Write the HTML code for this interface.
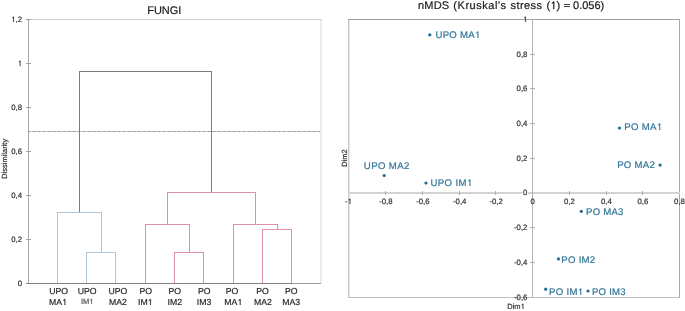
<!DOCTYPE html>
<html><head><meta charset="utf-8">
<style>
html,body{margin:0;padding:0;background:#fff;width:685px;height:311px;overflow:hidden}
svg{display:block;will-change:transform;text-rendering:geometricPrecision;font-family:"Liberation Sans",sans-serif}
text{stroke-width:0.2px}
</style></head><body>
<svg width="685" height="311" viewBox="0 0 685 311">
<rect width="685" height="311" fill="#fff"/>
<text x="164.3" y="13.6" font-size="11" text-anchor="middle" fill="#1a1a1a" stroke="#1a1a1a">FUNGI</text>
<g shape-rendering="crispEdges" fill="none">
<line x1="28" y1="19.5" x2="322" y2="19.5" stroke="#d2d2d2"/>
<line x1="321" y1="20" x2="321" y2="283" stroke="#eaeaea" stroke-width="2"/>
<line x1="28.5" y1="19" x2="28.5" y2="284" stroke="#a6a6a6"/>
<line x1="26" y1="283.5" x2="321" y2="283.5" stroke="#9a9a9a"/>
<line x1="26" y1="283.5" x2="292" y2="283.5" stroke="#808080"/>
<line x1="26" y1="19.5" x2="31" y2="19.5" stroke="#a0a0a0"/>
<line x1="26" y1="63.5" x2="31" y2="63.5" stroke="#a0a0a0"/>
<line x1="26" y1="107.5" x2="31" y2="107.5" stroke="#a0a0a0"/>
<line x1="26" y1="151.5" x2="31" y2="151.5" stroke="#a0a0a0"/>
<line x1="26" y1="195.5" x2="31" y2="195.5" stroke="#a0a0a0"/>
<line x1="26" y1="239.5" x2="31" y2="239.5" stroke="#a0a0a0"/>
<line x1="29" y1="131.5" x2="320" y2="131.5" stroke="#dadada"/>
<line x1="29" y1="131.5" x2="320" y2="131.5" stroke="#a2a2a2" stroke-dasharray="3.6 1.4" stroke-dashoffset="1.7" shape-rendering="auto"/>
<path d="M79.5 212V71.5H211.5V192" stroke="#7c7c7c"/>
<path d="M57.5 283V212.5H101.5V252.5M86.5 283V252.5H115.5V283" stroke="#b0c7d6"/>
<path d="M167.5 224.5V192.5H255.5V224.5M145.5 283V224.5H189.5V252.5M174.5 283V252.5H203.5V283M233.5 283V224.5H277.5V229.5M262.5 283V229.5H291.5V283" stroke="#e091aa"/>
</g>
<text x="22" y="21.9" font-size="7.8" text-anchor="end" fill="#333" stroke="#333"> ,2</text>
<text x="22" y="65.9" font-size="7.8" text-anchor="end" fill="#333" stroke="#333"> </text>
<text x="22" y="109.9" font-size="7.8" text-anchor="end" fill="#333" stroke="#333">0,8</text>
<text x="22" y="153.9" font-size="7.8" text-anchor="end" fill="#333" stroke="#333">0,6</text>
<text x="22" y="197.9" font-size="7.8" text-anchor="end" fill="#333" stroke="#333">0,4</text>
<text x="22" y="241.9" font-size="7.8" text-anchor="end" fill="#333" stroke="#333">0,2</text>
<text x="22" y="285.9" font-size="7.8" text-anchor="end" fill="#333" stroke="#333">0</text>
<text transform="translate(6.6 158.8) rotate(-90)" font-size="7.5" text-anchor="middle" fill="#333" stroke="#333">Dissimilarity</text>
<text x="58.55" y="294.0" font-size="8.7" text-anchor="middle" fill="#2a2a2a" stroke="#2a2a2a">UPO</text>
<text x="58.05" y="305.0" font-size="8.7" text-anchor="middle" fill="#2a2a2a" stroke="#2a2a2a">MA </text>
<text x="87.2" y="294.0" font-size="8.7" text-anchor="middle" fill="#2a2a2a" stroke="#2a2a2a">UPO</text>
<text x="87.2" y="303.6" font-size="7.5" text-anchor="middle" fill="#555" stroke="#555">IM </text>
<text x="117.85" y="294.0" font-size="8.7" text-anchor="middle" fill="#2a2a2a" stroke="#2a2a2a">UPO</text>
<text x="117.85" y="305.0" font-size="8.7" text-anchor="middle" fill="#2a2a2a" stroke="#2a2a2a">MA2</text>
<text x="145.85" y="294.0" font-size="8.7" text-anchor="middle" fill="#2a2a2a" stroke="#2a2a2a">PO</text>
<text x="145.3" y="305.0" font-size="8.7" text-anchor="middle" fill="#2a2a2a" stroke="#2a2a2a">IM </text>
<text x="174.85" y="294.0" font-size="8.7" text-anchor="middle" fill="#2a2a2a" stroke="#2a2a2a">PO</text>
<text x="174.85" y="305.0" font-size="8.7" text-anchor="middle" fill="#2a2a2a" stroke="#2a2a2a">IM2</text>
<text x="204.2" y="294.0" font-size="8.7" text-anchor="middle" fill="#2a2a2a" stroke="#2a2a2a">PO</text>
<text x="204.05" y="305.0" font-size="8.7" text-anchor="middle" fill="#2a2a2a" stroke="#2a2a2a">IM3</text>
<text x="232.0" y="294.0" font-size="8.7" text-anchor="middle" fill="#2a2a2a" stroke="#2a2a2a">PO</text>
<text x="233.3" y="305.0" font-size="8.7" text-anchor="middle" fill="#2a2a2a" stroke="#2a2a2a">MA </text>
<text x="262.55" y="294.0" font-size="8.7" text-anchor="middle" fill="#2a2a2a" stroke="#2a2a2a">PO</text>
<text x="263.0" y="305.0" font-size="8.7" text-anchor="middle" fill="#2a2a2a" stroke="#2a2a2a">MA2</text>
<text x="291.2" y="294.0" font-size="8.7" text-anchor="middle" fill="#2a2a2a" stroke="#2a2a2a">PO</text>
<text x="291.2" y="305.0" font-size="8.7" text-anchor="middle" fill="#2a2a2a" stroke="#2a2a2a">MA3</text>
<g font-size="11" fill="#1a1a1a" stroke="#1a1a1a" style="stroke-width:0.05px"><text y="9.2"><tspan x="418.07" letter-spacing="0.19">nMDS</tspan><tspan x="453.32" letter-spacing="0.54">(Kruskal's</tspan><tspan x="510.49" letter-spacing="0.45">stress</tspan><tspan x="546.52" letter-spacing="0.11">( )</tspan><tspan x="573.07">0.056)</tspan></text></g>
<rect x="564" y="4" width="6" height="1" fill="#444"/><rect x="564" y="6" width="6" height="1" fill="#444"/>
<g shape-rendering="crispEdges" fill="none">
<line x1="348.5" y1="19" x2="348.5" y2="298" stroke="#c8c8c8"/>
<line x1="349.5" y1="19" x2="349.5" y2="298" stroke="#e6e6e6"/>
<line x1="348" y1="19.5" x2="680" y2="19.5" stroke="#a0a0a0"/>
<line x1="679.5" y1="19" x2="679.5" y2="298" stroke="#a8a8a8"/>
<line x1="348" y1="297.5" x2="680" y2="297.5" stroke="#c0c0c0"/>
<line x1="348" y1="193" x2="680" y2="193" stroke="#d2d2d2" stroke-width="2"/>
<line x1="532.5" y1="19" x2="532.5" y2="298" stroke="#b4b4b4"/>
<line x1="385.5" y1="191" x2="385.5" y2="195" stroke="#b0b0b0"/>
<line x1="422.5" y1="191" x2="422.5" y2="195" stroke="#b0b0b0"/>
<line x1="459.5" y1="191" x2="459.5" y2="195" stroke="#b0b0b0"/>
<line x1="495.5" y1="191" x2="495.5" y2="195" stroke="#b0b0b0"/>
<line x1="569.5" y1="191" x2="569.5" y2="195" stroke="#b0b0b0"/>
<line x1="606.5" y1="191" x2="606.5" y2="195" stroke="#b0b0b0"/>
<line x1="642.5" y1="191" x2="642.5" y2="195" stroke="#b0b0b0"/>
<line x1="530" y1="54.5" x2="535" y2="54.5" stroke="#b0b0b0"/>
<line x1="530" y1="88.5" x2="535" y2="88.5" stroke="#b0b0b0"/>
<line x1="530" y1="123.5" x2="535" y2="123.5" stroke="#b0b0b0"/>
<line x1="530" y1="158.5" x2="535" y2="158.5" stroke="#b0b0b0"/>
<line x1="530" y1="227.5" x2="535" y2="227.5" stroke="#b0b0b0"/>
<line x1="530" y1="262.5" x2="535" y2="262.5" stroke="#b0b0b0"/>
</g>
<rect x="522" y="189" width="6" height="7" fill="#fff"/>
<text x="348.4" y="203.5" font-size="7.8" text-anchor="middle" fill="#333" stroke="#333">- </text>
<text x="385.75" y="203.5" font-size="7.8" text-anchor="middle" fill="#333" stroke="#333">-0,8</text>
<text x="422.85" y="203.5" font-size="7.8" text-anchor="middle" fill="#333" stroke="#333">-0,6</text>
<text x="459.7" y="203.5" font-size="7.8" text-anchor="middle" fill="#333" stroke="#333">-0,4</text>
<text x="496.05" y="203.5" font-size="7.8" text-anchor="middle" fill="#333" stroke="#333">-0,2</text>
<text x="532.6" y="203.5" font-size="7.8" text-anchor="middle" fill="#333" stroke="#333">0</text>
<text x="569.5" y="203.5" font-size="7.8" text-anchor="middle" fill="#333" stroke="#333">0,2</text>
<text x="606.45" y="203.5" font-size="7.8" text-anchor="middle" fill="#333" stroke="#333">0,4</text>
<text x="642.95" y="203.5" font-size="7.8" text-anchor="middle" fill="#333" stroke="#333">0,6</text>
<text x="679.5" y="203.5" font-size="7.8" text-anchor="middle" fill="#333" stroke="#333">0,8</text>
<text x="527.4" y="21.8" font-size="7.8" text-anchor="end" fill="#333" stroke="#333"> </text>
<text x="527.4" y="56.8" font-size="7.8" text-anchor="end" fill="#333" stroke="#333">0,8</text>
<text x="527.4" y="90.8" font-size="7.8" text-anchor="end" fill="#333" stroke="#333">0,6</text>
<text x="527.4" y="125.8" font-size="7.8" text-anchor="end" fill="#333" stroke="#333">0,4</text>
<text x="527.4" y="160.8" font-size="7.8" text-anchor="end" fill="#333" stroke="#333">0,2</text>
<text x="527.4" y="195.3" font-size="7.8" text-anchor="end" fill="#333" stroke="#333">0</text>
<text x="527.4" y="229.8" font-size="7.8" text-anchor="end" fill="#333" stroke="#333">-0,2</text>
<text x="527.4" y="264.8" font-size="7.8" text-anchor="end" fill="#333" stroke="#333">-0,4</text>
<text x="527.4" y="299.8" font-size="7.8" text-anchor="end" fill="#333" stroke="#333">-0,6</text>
<text x="516" y="309.4" font-size="7.5" text-anchor="middle" fill="#333" stroke="#333">Dim </text>
<text transform="translate(346.6 158) rotate(-90)" font-size="7.5" text-anchor="middle" fill="#333" stroke="#333">Dim2</text>
<g fill="#1f6b94"><circle cx="429.8" cy="34.8" r="1.6"/><circle cx="384.2" cy="175.5" r="1.6"/><circle cx="426" cy="183" r="1.6"/><circle cx="619.5" cy="128" r="1.6"/><circle cx="660.1" cy="165.1" r="1.6"/><circle cx="581.3" cy="211.3" r="1.6"/><circle cx="558.5" cy="258.9" r="1.6"/><circle cx="545.7" cy="289.2" r="1.6"/><circle cx="588" cy="291" r="1.6"/></g>
<g font-size="9.6" fill="#2f7499" stroke="#2f7499" style="stroke-width:0.1px"><text x="435.56" y="37.55" letter-spacing="0.25">UPO MA </text><text x="363.86" y="168.65" letter-spacing="0.39">UPO MA2</text><text x="430.46" y="185.65" letter-spacing="0.39">UPO IM </text><text x="624.21" y="130" letter-spacing="0.32">PO MA </text><text x="617.21" y="167.65" letter-spacing="0.26">PO MA2</text><text x="586.11" y="214.95" letter-spacing="0.21">PO MA3</text><text x="561.31" y="262.65" letter-spacing="0.27">PO IM2</text><text x="549.11" y="295" letter-spacing="0.28">PO IM </text><text x="591.91" y="295" letter-spacing="0.25">PO IM3</text></g>
<g><path transform="translate(11.156 22.000) scale(0.003809 -0.003809)" d="M560 0L560 1140L300 960L300 1120L575 1409L740 1409L740 0Z" fill="rgb(51, 51, 51)" stroke="rgb(51, 51, 51)" stroke-width="52.5"/><path transform="translate(17.656 66.000) scale(0.003809 -0.003809)" d="M560 0L560 1140L300 960L300 1120L575 1409L740 1409L740 0Z" fill="rgb(51, 51, 51)" stroke="rgb(51, 51, 51)" stroke-width="52.5"/><path transform="translate(62.144 305.000) scale(0.004248 -0.004248)" d="M560 0L560 1140L300 960L300 1120L575 1409L740 1409L740 0Z" fill="rgb(42, 42, 42)" stroke="rgb(42, 42, 42)" stroke-width="47.1"/><path transform="translate(89.270 304.000) scale(0.003662 -0.003662)" d="M560 0L560 1140L300 960L300 1120L575 1409L740 1409L740 0Z" fill="rgb(85, 85, 85)" stroke="rgb(85, 85, 85)" stroke-width="54.6"/><path transform="translate(147.698 305.000) scale(0.004248 -0.004248)" d="M560 0L560 1140L300 960L300 1120L575 1409L740 1409L740 0Z" fill="rgb(42, 42, 42)" stroke="rgb(42, 42, 42)" stroke-width="47.1"/><path transform="translate(237.394 305.000) scale(0.004248 -0.004248)" d="M560 0L560 1140L300 960L300 1120L575 1409L740 1409L740 0Z" fill="rgb(42, 42, 42)" stroke="rgb(42, 42, 42)" stroke-width="47.1"/><path transform="translate(550.286 9.000) scale(0.005371 -0.005371)" d="M560 0L560 1140L300 960L300 1120L575 1409L740 1409L740 0Z" fill="rgb(26, 26, 26)" stroke="rgb(26, 26, 26)" stroke-width="37.2"/><path transform="translate(347.525 204.000) scale(0.003809 -0.003809)" d="M560 0L560 1140L300 960L300 1120L575 1409L740 1409L740 0Z" fill="rgb(51, 51, 51)" stroke="rgb(51, 51, 51)" stroke-width="52.5"/><path transform="translate(523.056 22.000) scale(0.003809 -0.003809)" d="M560 0L560 1140L300 960L300 1120L575 1409L740 1409L740 0Z" fill="rgb(51, 51, 51)" stroke="rgb(51, 51, 51)" stroke-width="52.5"/><path transform="translate(520.570 309.000) scale(0.003662 -0.003662)" d="M560 0L560 1140L300 960L300 1120L575 1409L740 1409L740 0Z" fill="rgb(51, 51, 51)" stroke="rgb(51, 51, 51)" stroke-width="54.6"/><path transform="translate(474.904 38.000) scale(0.004687 -0.004687)" d="M560 0L560 1140L300 960L300 1120L575 1409L740 1409L740 0Z" fill="rgb(47, 116, 153)" stroke="rgb(47, 116, 153)" stroke-width="42.7"/><path transform="translate(466.897 186.000) scale(0.004687 -0.004687)" d="M560 0L560 1140L300 960L300 1120L575 1409L740 1409L740 0Z" fill="rgb(47, 116, 153)" stroke="rgb(47, 116, 153)" stroke-width="42.7"/><path transform="translate(656.726 130.000) scale(0.004687 -0.004687)" d="M560 0L560 1140L300 960L300 1120L575 1409L740 1409L740 0Z" fill="rgb(47, 116, 153)" stroke="rgb(47, 116, 153)" stroke-width="42.7"/><path transform="translate(577.688 295.000) scale(0.004687 -0.004687)" d="M560 0L560 1140L300 960L300 1120L575 1409L740 1409L740 0Z" fill="rgb(47, 116, 153)" stroke="rgb(47, 116, 153)" stroke-width="42.7"/></g>
</svg>
</body></html>
